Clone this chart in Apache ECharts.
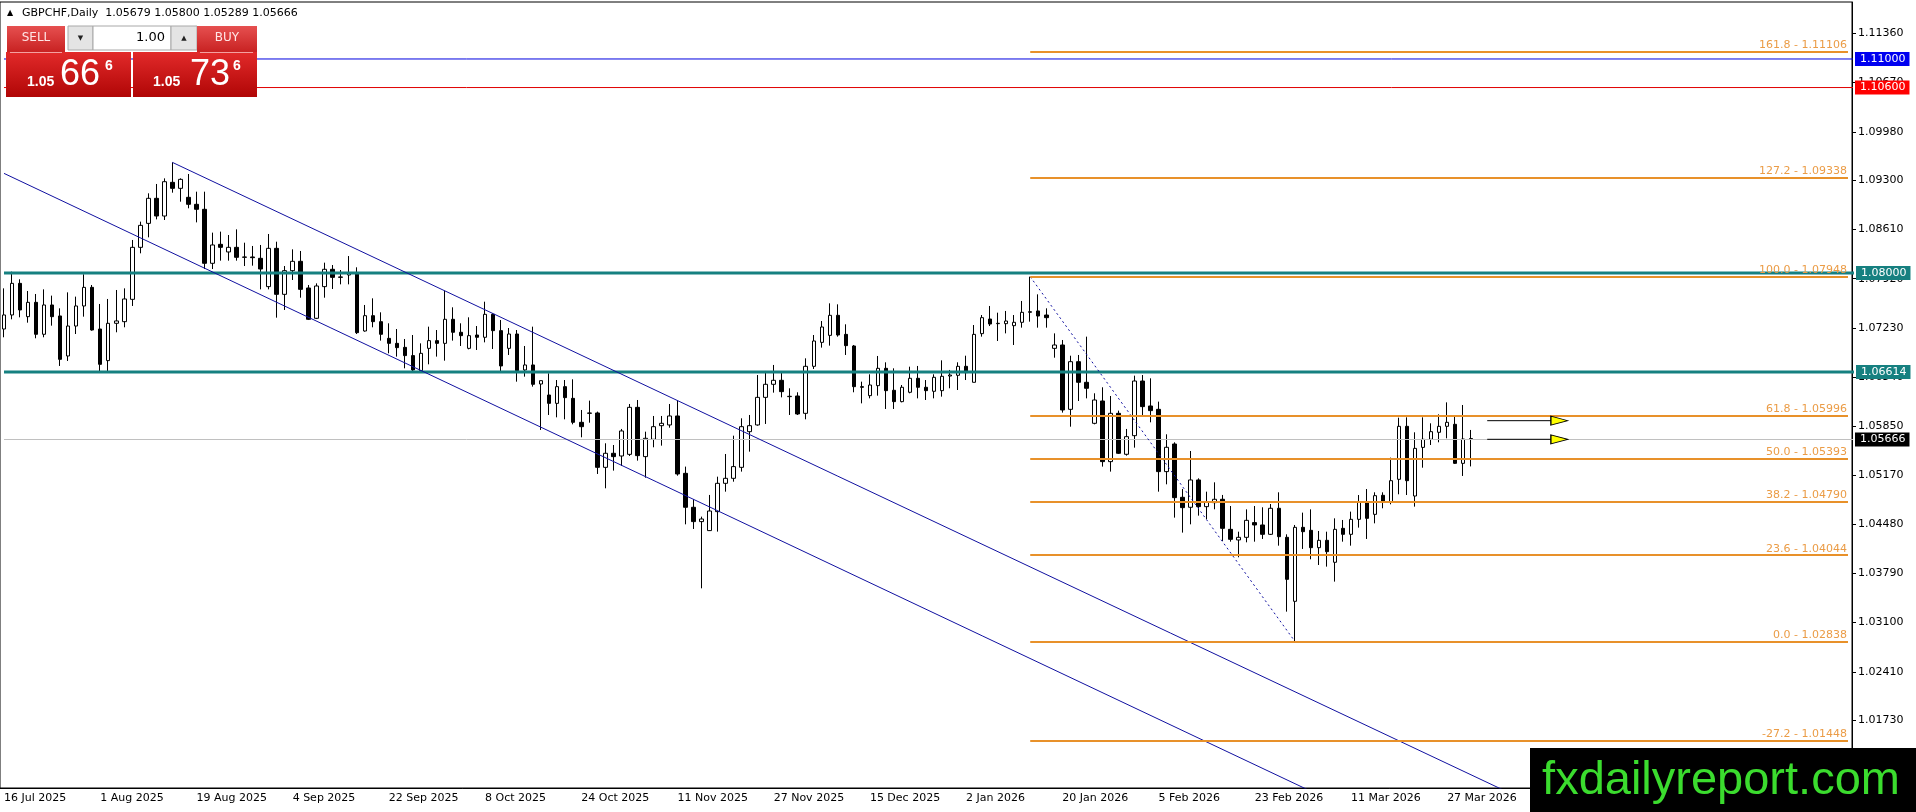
<!DOCTYPE html>
<html>
<head>
<meta charset="utf-8">
<title>GBPCHF Daily</title>
<script src="https://cdn.jsdelivr.net/npm/echarts@6.0.0/dist/echarts.min.js"></script>
<style>
html, body { margin: 0; padding: 0; background: #fff; }
#chart { width: 1916px; height: 812px; }
</style>
</head>
<body>
<div id="chart"></div>
<script>
// instrument
var symbolName = 'GBPCHF';
var period = 'Daily';
var bidPrice = 1.05666;
var askPrice = 1.05736;

// daily bars, from 16 Jul 2025
var openP = [
  1.07215,1.07412,1.07855,1.07388,1.07589,1.07141,1.07552,1.07398,1.06837,1.07257,
  1.07538,1.07799,1.07215,1.06772,1.07295,1.07318,1.07631,1.08360,1.08696,1.09047,
  1.08799,1.09271,1.09187,1.09061,1.08963,1.08893,1.08136,1.08402,1.08295,1.08360,
  1.08220,1.08225,1.08206,1.07809,1.08346,1.07701,1.08033,1.08164,1.07790,1.07365,
  1.07809,1.08052,1.07939,1.07972,1.07996,1.07187,1.07402,1.07318,1.07084,1.07014,
  1.06958,1.06842,1.06631,1.06944,1.07052,1.07014,1.07351,1.07169,1.06944,1.07131,
  1.07099,1.07421,1.07192,1.06944,1.07145,1.06641,1.06711,1.06444,1.06290,1.06173,
  1.06407,1.06243,1.05907,1.06033,1.06038,1.05276,1.05473,1.05435,1.05458,1.06117,
  1.05426,1.05669,1.05860,1.05870,1.05996,1.05192,1.04716,1.04515,1.04389,1.04655,
  1.05052,1.05122,1.05276,1.05776,1.05870,1.06257,1.06440,1.06496,1.06267,1.06276,
  1.06033,1.06692,1.07028,1.07126,1.07407,1.07140,1.06977,1.06407,1.06281,1.06421,
  1.06664,1.06356,1.06197,1.06328,1.06524,1.06398,1.06342,1.06351,1.06556,1.06566,
  1.06692,1.06468,1.07150,1.07355,1.07290,1.07290,1.07262,1.07309,1.07449,1.07468,
  1.07411,1.06944,1.06991,1.06089,1.06757,1.06468,1.05893,1.06206,1.05356,1.06033,
  1.05459,1.05720,1.06486,1.06136,1.06089,1.05216,1.05603,1.04856,1.04716,1.05099,
  1.04725,1.04781,1.04828,1.04407,1.04258,1.04295,1.04501,1.04468,1.04337,1.04702,
  1.04295,1.03398,1.04435,1.04393,1.04150,1.04253,1.03945,1.04421,1.04337,1.04547,
  1.04786,1.04617,1.04884,1.04795,1.05108,1.05851,1.04874,1.05556,1.05669,1.05767,
  1.05851,1.05879,1.05332,1.05679
];
var highP = [
  1.07785,1.08019,1.07912,1.07748,1.07706,1.07771,1.07683,1.07505,1.07729,1.07669,
  1.07982,1.07832,1.07566,1.07636,1.07762,1.07785,1.08463,1.08720,1.09117,1.09248,
  1.09327,1.09551,1.09327,1.09388,1.09140,1.09140,1.08566,1.08580,1.08533,1.08612,
  1.08425,1.08379,1.08393,1.08547,1.08439,1.08098,1.08332,1.08309,1.07832,1.07855,
  1.08145,1.08112,1.08042,1.08238,1.08080,1.07552,1.07645,1.07449,1.07295,1.07215,
  1.07075,1.07131,1.07014,1.07248,1.07201,1.07753,1.07519,1.07295,1.07379,1.07257,
  1.07598,1.07435,1.07341,1.07229,1.07201,1.06977,1.07248,1.06491,1.06594,1.06500,
  1.06500,1.06510,1.06080,1.06211,1.06057,1.05613,1.05589,1.05814,1.06164,1.06220,
  1.05776,1.05996,1.05996,1.06164,1.06211,1.05286,1.04828,1.04585,1.04889,1.05145,
  1.05463,1.05720,1.05963,1.06010,1.06570,1.06627,1.06711,1.06608,1.06384,1.06328,
  1.06804,1.07131,1.07327,1.07575,1.07561,1.07281,1.06991,1.06477,1.06580,1.06837,
  1.06748,1.06664,1.06430,1.06687,1.06697,1.06500,1.06580,1.06776,1.06641,1.06748,
  1.06841,1.07271,1.07411,1.07538,1.07444,1.07468,1.07411,1.07608,1.07948,1.07701,
  1.07505,1.07154,1.07061,1.06841,1.06851,1.07108,1.06314,1.06398,1.06276,1.06071,
  1.05814,1.06561,1.06570,1.06524,1.06197,1.05739,1.05627,1.04973,1.05505,1.05122,
  1.04935,1.05066,1.04889,1.04734,1.04374,1.04687,1.04734,1.04716,1.04762,1.04926,
  1.04337,1.04468,1.04641,1.04687,1.04384,1.04374,1.04561,1.04538,1.04655,1.04888,
  1.04972,1.04926,1.04926,1.05412,1.05972,1.05977,1.05767,1.05977,1.05893,1.06019,
  1.06187,1.05986,1.06150,1.05800
];
var lowP = [
  1.07099,1.07351,1.07379,1.07304,1.07085,1.07099,1.07262,1.06697,1.06767,1.07145,
  1.07388,1.07192,1.06617,1.06617,1.07169,1.07239,1.07538,1.08276,1.08500,1.08752,
  1.08743,1.09126,1.09000,1.08907,1.08710,1.08056,1.08056,1.08173,1.08173,1.08173,
  1.08098,1.08103,1.07771,1.07771,1.07374,1.07482,1.07902,1.07654,1.07341,1.07355,
  1.07654,1.07776,1.07841,1.07841,1.07145,1.07178,1.07239,1.07052,1.06874,1.06828,
  1.06664,1.06608,1.06608,1.06720,1.06828,1.06771,1.07052,1.06977,1.06930,1.06921,
  1.07028,1.06935,1.06603,1.06851,1.06477,1.06547,1.06407,1.05800,1.06010,1.05977,
  1.05949,1.05879,1.05697,1.05902,1.05183,1.04982,1.05230,1.05295,1.05435,1.05370,
  1.05131,1.05557,1.05580,1.05832,1.05159,1.04477,1.04412,1.03580,1.04384,1.04375,
  1.04935,1.05075,1.05216,1.05496,1.05860,1.05884,1.06323,1.06257,1.06010,1.06010,
  1.05949,1.06655,1.06954,1.06982,1.07108,1.06851,1.06328,1.06173,1.06243,1.06281,
  1.06094,1.06094,1.06187,1.06314,1.06243,1.06220,1.06243,1.06267,1.06384,1.06360,
  1.06500,1.06468,1.07108,1.07257,1.07047,1.07154,1.06991,1.07234,1.07318,1.07234,
  1.07234,1.06813,1.06043,1.05846,1.06206,1.06243,1.05879,1.05286,1.05216,1.05463,
  1.05440,1.05552,1.05986,1.05907,1.04935,1.05038,1.04571,1.04361,1.04477,1.04599,
  1.04548,1.04688,1.04244,1.04234,1.04015,1.04225,1.04234,1.04272,1.04328,1.04178,
  1.03253,1.02838,1.04132,1.03987,1.03907,1.03884,1.03674,1.04234,1.04178,1.04431,
  1.04272,1.04491,1.04702,1.04758,1.04898,1.04888,1.04725,1.05271,1.05589,1.05627,
  1.05683,1.05323,1.05155,1.05289
];
var closeP = [
  1.07412,1.07855,1.07482,1.07589,1.07141,1.07552,1.07388,1.06790,1.07257,1.07538,
  1.07799,1.07201,1.06720,1.07295,1.07328,1.07636,1.08360,1.08668,1.09047,1.08799,
  1.09280,1.09187,1.09313,1.08963,1.08893,1.08136,1.08393,1.08360,1.08360,1.08220,
  1.08225,1.08215,1.08056,1.08346,1.07701,1.08033,1.08164,1.07771,1.07351,1.07818,
  1.08052,1.07939,1.07945,1.07996,1.07164,1.07402,1.07318,1.07141,1.07014,1.06954,
  1.06842,1.06641,1.06874,1.07052,1.07014,1.07351,1.07169,1.07122,1.07122,1.07099,
  1.07421,1.07192,1.06697,1.07145,1.06631,1.06711,1.06440,1.06491,1.06173,1.06407,
  1.06253,1.05907,1.05846,1.06038,1.05276,1.05473,1.05426,1.05786,1.06117,1.05440,
  1.05683,1.05846,1.05893,1.05996,1.05183,1.04716,1.04515,1.04552,1.04664,1.05052,
  1.05122,1.05286,1.05846,1.05860,1.06257,1.06440,1.06496,1.06337,1.06272,1.06024,
  1.06692,1.07047,1.07243,1.07407,1.07131,1.06982,1.06407,1.06398,1.06430,1.06664,
  1.06351,1.06197,1.06398,1.06524,1.06398,1.06351,1.06538,1.06552,1.06570,1.06692,
  1.06603,1.07140,1.07374,1.07285,1.07295,1.07327,1.07309,1.07449,1.07458,1.07397,
  1.07374,1.06991,1.06080,1.06757,1.06468,1.06384,1.06220,1.05356,1.06033,1.05473,
  1.05706,1.06486,1.06127,1.06071,1.05216,1.05557,1.04851,1.04711,1.05099,1.04725,
  1.04786,1.04828,1.04421,1.04267,1.04295,1.04533,1.04468,1.04337,1.04702,1.04304,
  1.03706,1.04435,1.04374,1.04150,1.04253,1.04094,1.04407,1.04337,1.04547,1.04786,
  1.04561,1.04879,1.04795,1.05089,1.05851,1.05089,1.05542,1.05669,1.05776,1.05851,
  1.05907,1.05332,1.05673,1.05666
];

// price scale tick labels
var yTicks = [1.01730,1.02410,1.03100,1.03790,1.04480,1.05170,1.05850,1.06540,
              1.07230,1.07920,1.08610,1.09300,1.09980,1.10670,1.11360];

// fibonacci retracement, drawn from the 1.07948 high bar
var fibRatios = ['161.8','127.2','100.0','61.8','50.0','38.2','23.6','0.0','-27.2'];
var fibPrices = [1.11106,1.09338,1.07948,1.05996,1.05393,1.04790,1.04044,1.02838,1.01448];
var fibStartBar = 128;
var fibSwing = [[128, 1.07948], [161, 1.02838]];

// horizontal levels: price, line colour, box colour, width
var levelPrices = [1.11000, 1.10600, 1.08000, 1.06614, 1.05666];
var levelColors = ['#0000E0', '#E00000', '#168080', '#168080', '#C0C0C0'];
var levelBoxes  = ['#0000F0', '#FF0000', '#168080', '#168080', '#000000'];
var levelWidths = [1, 1, 3, 3, 1];

// descending channel: anchor [bar, price], slope per bar
var channelUpper = [21, 1.09551];
var channelLower = [0, 1.09370];
var channelSlope = -0.00053;

// the two arrows on the right
var arrowLevels = [1.05930, 1.05669];
var arrowFrom = 185, arrowTo = 193, arrowHead = 194;

// trading days
var monthNames = ['Jan','Feb','Mar','Apr','May','Jun','Jul','Aug','Sep','Oct','Nov','Dec'];
var closedDays = ['2025-12-25', '2026-01-01'];
var dates = [];
var t = Date.UTC(2025, 6, 16);
while (dates.length < 231) {
  var d = new Date(t);
  var wd = d.getUTCDay();
  if (wd !== 0 && wd !== 6 && closedDays.indexOf(d.toISOString().slice(0, 10)) < 0) {
    dates.push(d.getUTCDate() + ' ' + monthNames[d.getUTCMonth()] + ' ' + d.getUTCFullYear());
  }
  t += 86400000;
}

var FONT = 'DejaVu Sans';
var lastBar = closeP.length - 1;
var lastCat = dates.length - 1;

var candles = [];
for (var i = 0; i < closeP.length; i++) {
  candles.push([openP[i], closeP[i], lowP[i], highP[i]]);
}

function dateFilter(idx) {
  return idx % 12 === 0 && idx <= lastBar;
}

var fibMarks = [];
fibPrices.forEach(function (p, k) {
  fibMarks.push([
    {
      coord: [fibStartBar, p],
      lineStyle: { color: '#E8912A', width: 2, type: 'solid' },
      label: {
        show: true, position: 'insideEndTop', distance: [1, 1],
        formatter: fibRatios[k] + ' - ' + p.toFixed(5),
        color: '#EB9C46', fontFamily: FONT, fontSize: 11
      }
    },
    { coord: [lastCat, p] }
  ]);
});

function channelLine(anchor, fromBar) {
  var endBar = 205;
  var startBar = fromBar === undefined ? anchor[0] : fromBar;
  return [
    [startBar, anchor[1] + channelSlope * (startBar - anchor[0])],
    [endBar, anchor[1] + channelSlope * (endBar - anchor[0])]
  ];
}

var series = [
  {
    type: 'candlestick',
    data: candles,
    barWidth: 4,
    z: 2,
    itemStyle: { color: '#ffffff', color0: '#000000', borderColor: '#000000', borderColor0: '#000000', borderWidth: 1 },
    markLine: { symbol: ['none', 'none'], silent: true, animation: false, data: fibMarks }
  },
  {
    type: 'line', data: channelLine(channelUpper), showSymbol: false, silent: true, z: 4,
    lineStyle: { color: '#1010A0', width: 1 }
  },
  {
    type: 'line', data: channelLine(channelLower, -0.5), showSymbol: false, silent: true, z: 4,
    lineStyle: { color: '#1010A0', width: 1 }
  },
  {
    type: 'line', data: fibSwing, showSymbol: false, silent: true, z: 4,
    lineStyle: { color: '#1010A0', width: 1, type: [2, 3] }
  }
];

// one series per horizontal level, box label at the price scale
levelPrices.forEach(function (v, k) {
  series.push({
    type: 'line',
    data: [[-0.5, v], [lastCat + 0.5, v]],
    showSymbol: false, silent: true, z: 3,
    lineStyle: { color: levelColors[k], width: levelWidths[k] },
    endLabel: {
      show: true, distance: 2,
      formatter: v.toFixed(5),
      color: '#fff', backgroundColor: levelBoxes[k],
      padding: [1, 4, 1, 5],
      fontFamily: FONT, fontSize: 11, lineHeight: 12
    }
  });
});

arrowLevels.forEach(function (v) {
  series.push({
    type: 'line', data: [[arrowFrom, v], [arrowTo, v]], showSymbol: false, silent: true, z: 5,
    lineStyle: { color: '#000', width: 1 }
  });
});
series.push({
  type: 'scatter', silent: true, z: 6,
  data: arrowLevels.map(function (v) { return [arrowHead, v]; }),
  symbol: 'triangle', symbolRotate: -90, symbolSize: [9, 17],
  itemStyle: { color: '#FFFF00', borderColor: '#000', borderWidth: 1, opacity: 1 }
});

// trade panel and watermark
function grad(top, bottom) {
  return new echarts.graphic.LinearGradient(0, 0, 0, 1, [{ offset: 0, color: top }, { offset: 1, color: bottom }]);
}
function rect(x, y, w, h, fill, stroke) {
  return { type: 'rect', z: 100, silent: true, shape: { x: x, y: y, width: w, height: h },
           style: { fill: fill, stroke: stroke || null, lineWidth: 1 } };
}
function txt(x, y, s, font, fill, align) {
  return { type: 'text', z: 101, silent: true, x: x, y: y,
           style: { text: s, font: font, fill: fill, textAlign: align || 'left', textVerticalAlign: 'middle' } };
}
function splitQuote(p) {
  var s = p.toFixed(5);
  return [s.slice(0, 4), s.slice(4, 6), s.slice(6)];
}
var sq = splitQuote(bidPrice), bq = splitQuote(askPrice);
var hdr = symbolName + ',' + period + '  ' +
  [openP[lastBar], highP[lastBar], lowP[lastBar], closeP[lastBar]].map(function (v) { return v.toFixed(5); }).join(' ');

var graphics = [
  txt(7, 13, '\u25B2', '8px ' + FONT, '#000'),
  txt(22, 13, hdr, '11px ' + FONT, '#000'),

  rect(7, 26, 58, 26, grad('#E65050', '#C82222')),
  txt(36, 38, 'SELL', '12px ' + FONT, '#FFE6E6', 'center'),
  rect(68, 26, 25, 24, '#E4E4E4', '#A8A8A8'),
  txt(80.5, 38, '\u25BC', '7px ' + FONT, '#222', 'center'),
  rect(93, 26, 78, 24, '#FFFFFF', '#A8A8A8'),
  txt(165, 38, '1.00', '13px ' + FONT, '#000', 'right'),
  rect(171, 26, 26, 24, '#E4E4E4', '#A8A8A8'),
  txt(184, 38, '\u25B2', '7px ' + FONT, '#222', 'center'),
  rect(197, 26, 60, 26, grad('#E65050', '#C82222')),
  txt(227, 38, 'BUY', '12px ' + FONT, '#FFE6E6', 'center'),

  rect(6, 52, 125, 45, grad('#E22A2A', '#B00606')),
  { type: 'line', z: 101, silent: true, shape: { x1: 10, y1: 52.5, x2: 62, y2: 52.5 }, style: { stroke: '#F4A0A0', lineWidth: 1 } },
  txt(27, 82, sq[0], 'bold 14px "Liberation Sans", Arial', '#FFFFFF'),
  txt(60, 75, sq[1], '36px "Liberation Sans", Arial', '#FFFFFF'),
  txt(105, 66, sq[2], 'bold 14px "Liberation Sans", Arial', '#FFFFFF'),

  rect(133, 52, 124, 45, grad('#E22A2A', '#B00606')),
  { type: 'line', z: 101, silent: true, shape: { x1: 200, y1: 52.5, x2: 253, y2: 52.5 }, style: { stroke: '#F4A0A0', lineWidth: 1 } },
  txt(153, 82, bq[0], 'bold 14px "Liberation Sans", Arial', '#FFFFFF'),
  txt(190, 75, bq[1], '36px "Liberation Sans", Arial', '#FFFFFF'),
  txt(233, 66, bq[2], 'bold 14px "Liberation Sans", Arial', '#FFFFFF'),

  rect(1530, 748, 386, 64, '#000000'),
  txt(1721, 781, 'fxdailyreport.com', '47px "Liberation Sans", Arial', '#3BDC2E', 'center')
];

var chart = echarts.init(document.getElementById('chart'));
chart.setOption({
  animation: false,
  backgroundColor: '#ffffff',
  grid: { left: 0, right: 64, top: 2, bottom: 24, show: true, borderColor: '#000', borderWidth: 1, backgroundColor: '#fff' },
  xAxis: {
    type: 'category',
    data: dates,
    boundaryGap: true,
    axisLine: { lineStyle: { color: '#000', width: 1 } },
    axisTick: { alignWithLabel: true, interval: dateFilter, length: 4, lineStyle: { color: '#000' } },
    axisLabel: { interval: dateFilter, align: 'left', margin: 5, color: '#000', fontFamily: FONT, fontSize: 11 },
    splitLine: { show: false }
  },
  yAxis: {
    type: 'value',
    position: 'right',
    min: 1.00781,
    max: 1.11799,
    axisLine: { show: true, lineStyle: { color: '#000', width: 1 } },
    axisTick: { show: true, customValues: yTicks, length: 4, lineStyle: { color: '#000' } },
    axisLabel: {
      customValues: yTicks,
      formatter: function (v) { return v.toFixed(5); },
      margin: 6, color: '#000', fontFamily: FONT, fontSize: 11
    },
    splitLine: { show: false }
  },
  series: series,
  graphic: { elements: graphics }
});
</script>
</body>
</html>
